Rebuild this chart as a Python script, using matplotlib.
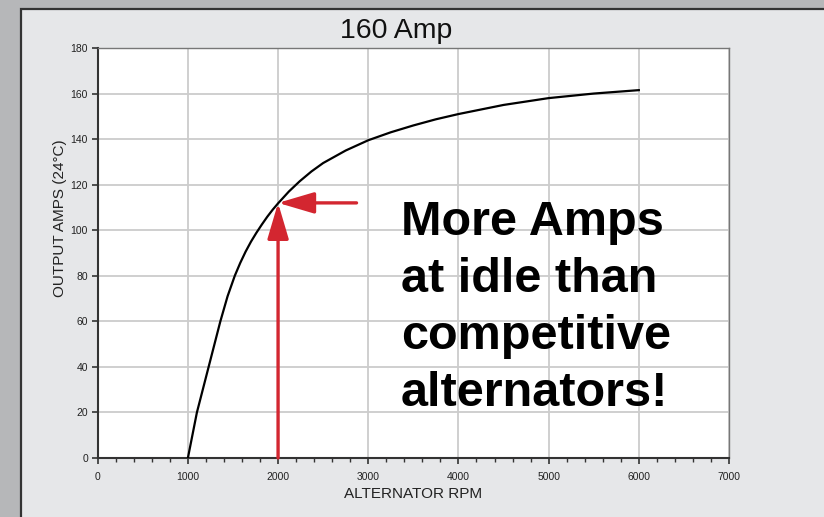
# output curve of a 160 amp alternator
import matplotlib.pyplot as plt
from matplotlib.patches import Rectangle
from matplotlib.ticker import MultipleLocator

rpm = [1000, 1100, 1230, 1360, 1440, 1520, 1580, 1640, 1700, 1760, 1820,
       1880, 1940, 2000, 2120, 2240, 2370, 2500, 2750, 3000, 3250, 3500,
       3750, 4000, 4500, 5000, 5500, 6000]
amps = [0, 20, 40, 60, 71, 80, 85.6, 90.6, 95, 98.9, 102.5,
        105.9, 109, 111.8, 117, 121.5, 125.8, 129.5, 135, 139.5, 143, 146,
        148.7, 151, 155, 158, 160, 161.5]

idle_rpm = 2000
idle_amps = 112
arrow_start = 2870

title = "160 Amp"
note = "More Amps\nat idle than\ncompetitive\nalternators!"

plt.rcParams['font.family'] = ['Liberation Sans', 'DejaVu Sans']

fig = plt.figure(figsize=(8.24, 5.17), dpi=100)
fig.patch.set_facecolor('#b6b7b9')
fig.patches.append(Rectangle((21 / 824, -0.01), 1.02, 1 - 9 / 517 + 0.01,
                             transform=fig.transFigure, facecolor='#e6e7e9',
                             edgecolor='#333333', linewidth=1.6, zorder=-1))

ax = fig.add_axes([97.7 / 824, 1 - 458 / 517, (729 - 97.7) / 824, (458 - 48) / 517])
ax.set_facecolor('white')
ax.set_xlim(0, 7000)
ax.set_ylim(0, 180)
ax.xaxis.set_major_locator(MultipleLocator(1000))
ax.xaxis.set_minor_locator(MultipleLocator(200))
ax.yaxis.set_major_locator(MultipleLocator(20))
ax.grid(True, color='#cccccc', linewidth=1.3)
ax.set_axisbelow(True)

ax.plot(rpm, amps, color='black', linewidth=1.6, zorder=3)

red = '#d32630'
ax.annotate('', xy=(idle_rpm, idle_amps), xytext=(idle_rpm, 0),
            arrowprops=dict(arrowstyle='-|>,head_length=2.2,head_width=0.65',
                            color=red, lw=2.4, shrinkA=0, shrinkB=0), zorder=4)
ax.annotate('', xy=(idle_rpm, idle_amps), xytext=(arrow_start, idle_amps),
            arrowprops=dict(arrowstyle='-|>,head_length=2.2,head_width=0.65',
                            color=red, lw=2.4, shrinkA=0, shrinkB=0), zorder=4)

ax.text(401 / 824, 1 - 200 / 517, note, transform=fig.transFigure,
        fontsize=35, fontweight='bold', va='top', ha='left',
        linespacing=1.34, zorder=5)

for s in ['left', 'bottom']:
    ax.spines[s].set_color('#333333')
    ax.spines[s].set_linewidth(1.5)
for s in ['top', 'right']:
    ax.spines[s].set_color('#777777')
    ax.spines[s].set_linewidth(1.0)

ax.tick_params(axis='both', which='major', labelsize=7.5, length=4, width=1.2,
               color='#333333', labelcolor='#222222', pad=3)
ax.tick_params(axis='x', which='minor', length=3, width=1.0, color='#333333')
ax.tick_params(axis='x', which='major', pad=6)

ax.set_xlabel('ALTERNATOR RPM', fontsize=11, color='#222222', labelpad=4)
ax.set_ylabel('OUTPUT AMPS (24°C)', fontsize=11, color='#222222', va='center')
ax.yaxis.set_label_coords((60 - 97.7) / 631.3, (458 - 218) / 410)

fig.text(396 / 824, 1 - 31 / 517, title, fontsize=20.5, ha='center', va='center',
         color='#111111')

fig.savefig('out.png', dpi=100, facecolor=fig.get_facecolor())
